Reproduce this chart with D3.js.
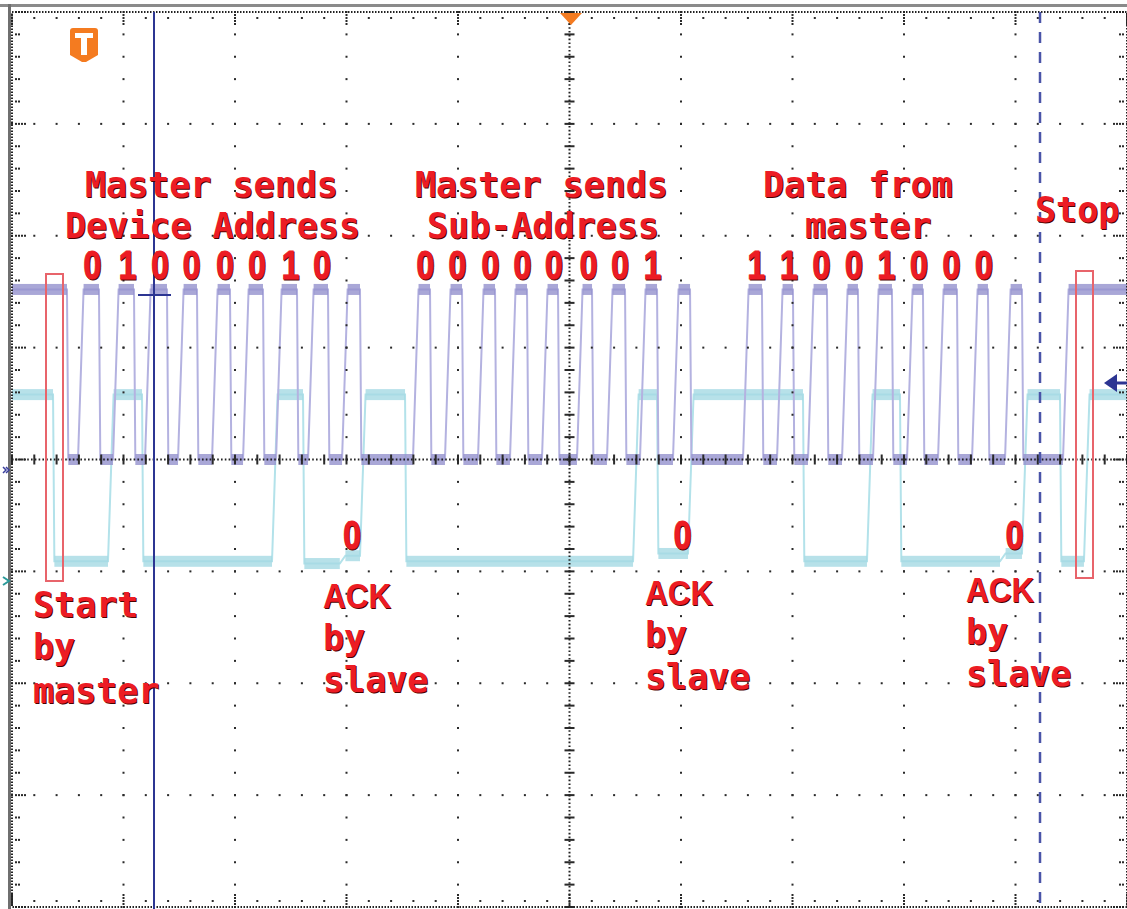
<!DOCTYPE html>
<html>

<head>
  <script src="https://d3js.org/d3.v7.min.js"></script>
  <style>
    body { margin: 0; background: #fff; }
  </style>
</head>

<body>

  <div id="scope"></div>

  <script>
    // scope screen: 10 x 8 divisions, time and level both in divisions
    const width = 1127;
    const height = 909;

    // SCL clock pulses [rise, fall] in divisions
    const sclPulses = [
      [0.592, 0.780], [0.906, 1.094], [1.193, 1.390], [1.489, 1.659], [1.794, 1.955],
      [2.072, 2.251], [2.368, 2.556], [2.655, 2.834], [2.960, 3.121],
      [3.596, 3.749], [3.883, 4.036], [4.179, 4.332], [4.466, 4.619], [4.753, 4.897],
      [5.067, 5.202], [5.336, 5.498], [5.632, 5.785], [5.928, 6.081],
      [6.556, 6.726], [6.861, 7.004], [7.139, 7.309], [7.444, 7.587], [7.722, 7.892],
      [8.027, 8.170], [8.305, 8.475], [8.610, 8.753], [8.906, 9.058]
    ];
    const sclStartFall = 0.493;
    const sclStopRise = 9.426;
    const sclLevels = [0, 1.52]; // low, high

    // SDA steps [time, level]
    const sdaSteps = [
      [0, 0.58], [0.368, -0.91], [0.861, 0.58], [1.166, -0.91], [2.332, 0.58],
      [2.610, -0.93], [2.940, -0.86], [3.121, 0.58], [3.525, -0.91], [5.570, 0.58],
      [5.785, -0.84], [6.063, 0.58], [7.094, -0.91], [7.668, 0.58], [7.964, -0.91],
      [8.861, -0.84], [9.058, 0.58], [9.399, -0.91], [9.614, 0.58]
    ];

    const addrBits = ["0", "1", "0", "0", "0", "0", "1", "0"];
    const subAddrBits = ["0", "0", "0", "0", "0", "0", "0", "1"];
    const dataBits = ["1", "1", "0", "0", "1", "0", "0", "0"];
    const ackBits = ["0", "0", "0"];

    const x = d3.scaleLinear().domain([0, 10]).range([12, 1127]);
    const y = d3.scaleLinear().domain([-4, 4]).range([907, 12]);

    const svg = d3.select("#scope")
      .append("svg")
      .attr("width", width)
      .attr("height", height)
      .style("display", "block");

    // gray frame edges
    svg.append("rect").attr("x", 0).attr("y", 4).attr("width", width).attr("height", 3).attr("fill", "#8a8a8a");
    svg.append("rect").attr("x", 8).attr("y", 4).attr("width", 3).attr("height", height).attr("fill", "#6f6f6f");

    // build SCL step list from pulses
    var sclSteps = [[0, sclLevels[1]], [sclStartFall, sclLevels[0]]];
    sclPulses.forEach(p => {
      sclSteps.push([p[0], sclLevels[1]]);
      sclSteps.push([p[1], sclLevels[0]]);
    });
    sclSteps.push([sclStopRise, sclLevels[1]]);

    const riseT = 0.05, fallT = 0.012;

    function tracePath(steps) {
      var d = "M" + x(steps[0][0]) + "," + y(steps[0][1]);
      for (var i = 1; i < steps.length; i++) {
        var prev = steps[i - 1][1], t = steps[i][0], v = steps[i][1];
        var dt = v > prev ? riseT : fallT;
        d += "L" + x(t) + "," + y(prev) + "L" + x(t + dt) + "," + y(v);
      }
      d += "L" + x(10) + "," + y(steps[steps.length - 1][1]);
      return d;
    }

    function segments(steps) {
      return steps.map((s, i) => {
        var prev = i > 0 ? steps[i - 1][1] : s[1];
        var start = i > 0 ? s[0] + (s[1] > prev ? riseT : fallT) : s[0];
        var end = i < steps.length - 1 ? steps[i + 1][0] : 10;
        return { start: start, end: end, v: s[1] };
      });
    }

    function drawTrace(steps, lineColor, bandColor, band) {
      var g = svg.append("g");
      g.append("path")
        .attr("d", tracePath(steps))
        .attr("fill", "none")
        .attr("stroke", lineColor)
        .attr("stroke-width", 2);
      g.selectAll("rect")
        .data(segments(steps))
        .enter().append("rect")
        .attr("x", d => x(d.start))
        .attr("width", d => Math.max(0, x(d.end) - x(d.start)))
        .attr("y", d => y(d.v) - band / 2)
        .attr("height", band)
        .attr("fill", bandColor)
        .attr("opacity", 0.8);
    }

    drawTrace(sdaSteps, "#b3e2ea", "#a5dae3", 11);
    drawTrace(sclSteps, "#b4b2e0", "#9391cd", 11);

    // ---- graticule ----
    const grid = svg.append("g").attr("fill", "#2a2a2a");
    const minorX = d3.range(0, 10.001, 0.2);
    const minorY = d3.range(-4, 4.001, 0.2);

    // vertical major dotted lines
    d3.range(1, 10).filter(i => i != 5).forEach(i => {
      grid.selectAll(null).data(minorY).enter().append("rect")
        .attr("x", x(i) - 1).attr("y", d => y(d) - 1).attr("width", 2).attr("height", 2);
    });
    // horizontal major dotted lines
    d3.range(-3, 4).filter(i => i != 0).forEach(i => {
      grid.selectAll(null).data(minorX).enter().append("rect")
        .attr("x", d => x(d) - 1).attr("y", y(i) - 1).attr("width", 2).attr("height", 2);
    });

    // centre axes
    svg.append("line").attr("x1", x(0)).attr("x2", x(10)).attr("y1", y(0)).attr("y2", y(0))
      .attr("stroke", "#222").attr("stroke-width", 2).attr("stroke-dasharray", "1.6,2.2");
    svg.append("line").attr("x1", x(5)).attr("x2", x(5)).attr("y1", y(4)).attr("y2", y(-4))
      .attr("stroke", "#222").attr("stroke-width", 2).attr("stroke-dasharray", "1.6,2.2");
    grid.selectAll(null).data(minorX).enter().append("rect")
      .attr("x", d => x(d) - 1).attr("y", y(0) - 5).attr("width", 2).attr("height", 10);
    grid.selectAll(null).data(minorY).enter().append("rect")
      .attr("x", x(5) - 5).attr("y", d => y(d) - 1).attr("width", 10).attr("height", 2);

    // border
    svg.append("rect")
      .attr("x", x(0)).attr("y", y(4)).attr("width", x(10) - x(0)).attr("height", y(-4) - y(4))
      .attr("fill", "none").attr("stroke", "#222").attr("stroke-width", 2).attr("stroke-dasharray", "1.5,1.5");

    // border ticks
    minorX.forEach((d, i) => {
      var n = i % 5 == 0 ? 4 : 1;
      d3.range(n).forEach(k => {
        grid.append("rect").attr("x", x(d) - 1).attr("y", y(4) + (n == 1 ? 5 : 2 + k * 3)).attr("width", 2).attr("height", 2);
        grid.append("rect").attr("x", x(d) - 1).attr("y", y(-4) - (n == 1 ? 7 : 4 + k * 3)).attr("width", 2).attr("height", 2);
      });
    });
    minorY.forEach((d, i) => {
      var n = i % 5 == 0 ? 4 : 2;
      d3.range(n).forEach(k => {
        grid.append("rect").attr("x", x(0) + 3 + k * 3).attr("y", y(d) - 1).attr("width", 2).attr("height", 2);
        grid.append("rect").attr("x", x(10) - 5 - k * 3).attr("y", y(d) - 1).attr("width", 2).attr("height", 2);
      });
    });

    // cursors
    svg.append("line").attr("x1", 154).attr("x2", 154).attr("y1", y(4)).attr("y2", height)
      .attr("stroke", "#2c3592").attr("stroke-width", 2);
    svg.append("line").attr("x1", 138).attr("x2", 171).attr("y1", 295).attr("y2", 295)
      .attr("stroke", "#2c3592").attr("stroke-width", 2);
    svg.append("line").attr("x1", 1040).attr("x2", 1040).attr("y1", y(4)).attr("y2", height)
      .attr("stroke", "#4a54a8").attr("stroke-width", 2.5).attr("stroke-dasharray", "11,9");

    // level marker arrow on the right
    svg.append("path").attr("d", "M1104,383L1117,374L1117,392Z").attr("fill", "#2c3592");
    svg.append("line").attr("x1", 1114).attr("x2", width).attr("y1", 383).attr("y2", 383)
      .attr("stroke", "#2c3592").attr("stroke-width", 3);

    // channel markers on the left
    svg.append("path").attr("d", "M3,467L6,470L3,473M6,467L9,470L6,473")
      .attr("fill", "none").attr("stroke", "#3a3f9c").attr("stroke-width", 1.5);
    svg.append("path").attr("d", "M3,577L9,581L3,585")
      .attr("fill", "none").attr("stroke", "#2a9a9a").attr("stroke-width", 2);

    // trigger markers
    svg.append("path").attr("d", "M560,13L582,13L571,25Z").attr("fill", "#f47b20");
    svg.append("path").attr("d", "M73,28L95,28Q98,28 98,31L98,55L86,62L82,62L70,55L70,31Q70,28 73,28Z")
      .attr("fill", "#f47b20");
    svg.append("path").attr("d", "M75,33L93,33L93,38L87,38L87,55L81,55L81,38L75,38Z").attr("fill", "#fff");

    // start / stop boxes
    svg.append("rect").attr("x", 46).attr("y", 274).attr("width", 17).attr("height", 307)
      .attr("fill", "none").attr("stroke", "#e8646b").attr("stroke-width", 2);
    svg.append("rect").attr("x", 1076).attr("y", 271).attr("width", 17).attr("height", 307)
      .attr("fill", "none").attr("stroke", "#e8646b").attr("stroke-width", 2);

    // ---- annotations ----
    const red = "#ec1c24";
    const ann = svg.append("g");

    function label(txt, px, py, opts) {
      var g = ann.append("g").attr("transform", "translate(" + px + "," + py + ") scale(" + (opts.sx || 1) + ",1)");
      [["#4a0000", 1, 1], [red, 0, 0]].forEach(c => {
        g.append("text")
          .attr("x", c[1]).attr("y", c[2])
          .attr("fill", c[0])
          .attr("stroke", opts.bold ? c[0] : "none")
          .attr("stroke-width", opts.bold || 0)
          .attr("font-family", opts.font)
          .attr("font-weight", "bold")
          .attr("font-size", opts.size)
          .attr("text-anchor", opts.anchor || "start")
          .style("white-space", "pre")
          .text(txt);
      });
    }

    const mono = { font: "DejaVu Sans Mono", size: 35 };
    const sans = { font: "Liberation Sans", size: 35, sx: 0.9 };
    const digit = { font: "Liberation Sans", size: 40, sx: 0.8, anchor: "middle", bold: 0.8 };

    label("Master sends", 85, 197, mono);
    label("Device Address", 65, 238, mono);
    label("Master sends", 415, 197, mono);
    label("Sub-Address", 427, 238, mono);
    label("Data from", 763, 197, mono);
    label("master", 805, 238, mono);
    label("Stop", 1035, 222, mono);

    label("Start", 33, 617, mono);
    label("by", 33, 659, mono);
    label("master", 33, 703, mono);

    [[323, 608], [645, 605], [966, 602]].forEach(p => {
      label("ACK", p[0], p[1], sans);
      label("by", p[0], p[1] + 42, mono);
      label("slave", p[0], p[1] + 84, mono);
    });

    // bit values centred over their clock pulses
    [addrBits, subAddrBits, dataBits].forEach((bits, b) => {
      bits.forEach((bit, i) => {
        var p = sclPulses[b * 9 + i];
        label(bit, x((p[0] + riseT + p[1]) / 2) + 1, 279, digit);
      });
    });
    ackBits.forEach((bit, b) => {
      var p = sclPulses[b * 9 + 8];
      label(bit, x((p[0] + riseT + p[1]) / 2) - 2, 549, digit);
    });
  </script>
</body>

</html>
